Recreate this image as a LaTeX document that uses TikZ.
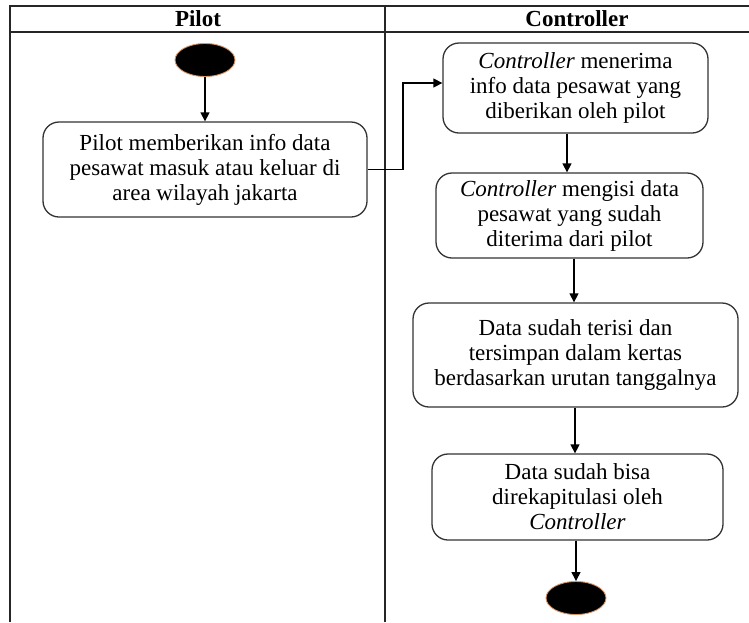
\documentclass[tikz,border=0pt]{standalone}
\usepackage{fontspec}
\setmainfont{Liberation Serif}
\usetikzlibrary{arrows.meta,shapes.geometric}
\definecolor{rim}{RGB}{215,150,105}
\begin{document}
\begin{tikzpicture}[x=1pt,y=-1pt,
  act/.style={draw=black!80, line width=1.3pt, rounded corners=16pt, align=center, inner sep=0pt,
              font=\fontsize{23}{25}\selectfont},
  dot/.style={ellipse, fill=black, draw=rim, line width=0.9pt, minimum width=60pt, minimum height=33pt, inner sep=0pt},
  arr/.style={line width=1.3pt, -{Triangle[length=9pt,width=9pt]}},
  frame/.style={line width=1.5pt, draw=black!85},
  head/.style={font=\fontsize{23}{25}\selectfont\bfseries, inner sep=0pt}
]
\useasboundingbox (0,0) rectangle (749,622);

% swimlane frame
\draw[frame] (10,622) -- (10,6) -- (749,6);
\draw[frame] (10,32) -- (749,32);
\draw[frame] (385,6) -- (385,622);
\node[head] (hp) at (198,19) {Pilot};
\node[head] (hc) at (577,19) {Controller};

% nodes
\node[dot] (s) at (205,60) {};
\node[act, minimum width=324pt, minimum height=95pt] (b1) at (205,169.5)
  {Pilot memberikan info data\\pesawat masuk atau keluar di\\area wilayah jakarta};
\node[act, minimum width=265pt, minimum height=90pt] (b2) at (575.5,88)
  {\textit{Controller} menerima\\info data pesawat yang\\diberikan oleh pilot};
\node[act, minimum width=267pt, minimum height=85pt] (b3) at (569.5,215.5)
  {\textit{Controller} mengisi data\\pesawat yang sudah\\diterima dari pilot};
\node[act, minimum width=325pt, minimum height=104pt] (b4) at (575.5,355)
  {Data sudah terisi dan\\tersimpan dalam kertas\\berdasarkan urutan tanggalnya};
\node[act, minimum width=291pt, minimum height=86pt] (b5) at (577.5,497)
  {Data sudah bisa\\direkapitulasi oleh\\\textit{Controller}};
\node[dot] (e) at (576,598) {};

% helper columns
\coordinate (bend) at (403,0);
\coordinate (c23) at (567,0);
\coordinate (c34) at (574,0);
\coordinate (c45) at (575,0);

% connectors
\draw[arr] (s) -- (b1);
\draw[arr] (b1.east) -- (b1.east -| bend) |- ([yshift=5pt]b2.west);
\draw[arr] (b2.south -| c23) -- (b3.north -| c23);
\draw[arr] (b3.south -| c34) -- (b4.north -| c34);
\draw[arr] (b4.south -| c45) -- (b5.north -| c45);
\draw[arr] (b5.south -| e) -- (e);
\end{tikzpicture}
\end{document}
